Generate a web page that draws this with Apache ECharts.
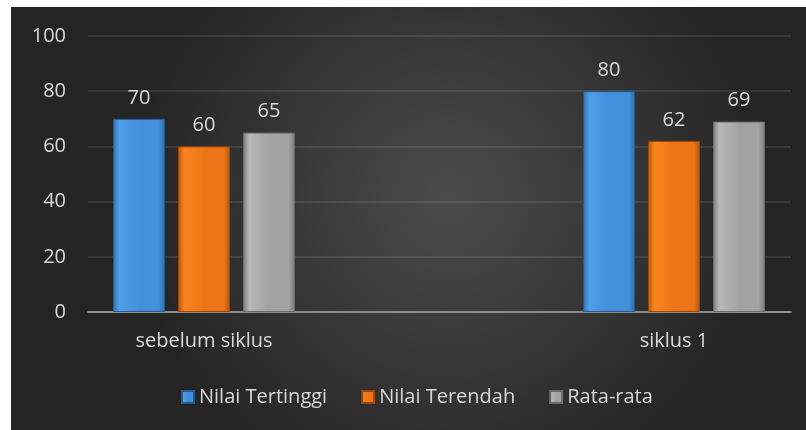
<!DOCTYPE html>
<html>
<head>
<meta charset="utf-8">
<script src="https://cdn.jsdelivr.net/npm/echarts@6/dist/echarts.min.js"></script>
<style>
html, body { margin: 0; padding: 0; background: #fff; }
#container { width: 806px; height: 430px; }
</style>
</head>
<body>
<div id="container"></div>
<script>
var categories = ['sebelum siklus', 'siklus 1'];
var nilaiTertinggi = [70, 80];
var nilaiTerendah = [60, 62];
var rataRata = [65, 69];
var seriesNames = ['Nilai Tertinggi', 'Nilai Terendah', 'Rata-rata'];

var dom = document.getElementById("container");
var myChart = echarts.init(dom);

function barColor(edge, mid, light) {
    return new echarts.graphic.LinearGradient(0, 0, 1, 0, [
        {offset: 0, color: edge},
        {offset: 0.12, color: light},
        {offset: 0.5, color: mid},
        {offset: 0.88, color: mid},
        {offset: 1, color: edge}
    ]);
}

function toPoints(values) {
    return values.map(function (v, i) { return [i, v]; });
}

var labelStyle = {
    show: true,
    position: 'top',
    distance: 11,
    color: '#d9d9d9',
    fontSize: 20,
    fontFamily: 'Open Sans'
};

var colors = [
    barColor('#2f6fae', '#4290dc', '#519fe8'),
    barColor('#b5560c', '#ee7517', '#f8841f'),
    barColor('#7a7a7a', '#a3a3a3', '#b8b8b8')
];

option = {
    animation: false,
    textStyle: {fontFamily: 'Open Sans'},
    graphic: [{
        type: 'rect',
        z: -100,
        shape: {x: 11, y: 7, width: 795, height: 423},
        style: {
            fill: new echarts.graphic.RadialGradient(0.55, 0.45, 0.75, [
                {offset: 0, color: '#4b4b4b'},
                {offset: 1, color: '#242424'}
            ])
        }
    }],
    legend: {
        left: 176,
        top: 382,
        itemWidth: 12,
        itemHeight: 12,
        itemGap: 34,
        icon: 'rect',
        textStyle: {color: '#d9d9d9', fontSize: 20},
        data: seriesNames
    },
    grid: {left: 88, right: 15, top: 36, bottom: 118},
    xAxis: {
        type: 'value',
        min: -0.2468,
        max: 1.249,
        splitLine: {show: false},
        axisTick: {show: false},
        axisLine: {show: true, lineStyle: {color: '#8c8c8c', width: 2}},
        axisLabel: {
            customValues: [0, 1],
            margin: 19,
            color: '#d9d9d9',
            fontSize: 20,
            formatter: function (v) { return categories[Math.round(v)]; }
        }
    },
    yAxis: {
        type: 'value',
        min: 0,
        max: 100,
        interval: 20,
        axisLine: {show: false},
        axisTick: {show: false},
        axisLabel: {color: '#d9d9d9', fontSize: 20, margin: 22},
        splitLine: {lineStyle: {color: 'rgba(255,255,255,0.13)', width: 1.5}}
    },
    series: [
        {
            name: seriesNames[0], type: 'bar', barWidth: 52, barGap: '25%',
            data: toPoints(nilaiTertinggi),
            itemStyle: {color: colors[0], borderColor: '#26598c', borderWidth: 1},
            label: labelStyle
        },
        {
            name: seriesNames[1], type: 'bar', barWidth: 52, barGap: '25%',
            data: toPoints(nilaiTerendah),
            itemStyle: {color: colors[1], borderColor: '#9a4608', borderWidth: 1},
            label: labelStyle
        },
        {
            name: seriesNames[2], type: 'bar', barWidth: 52, barGap: '25%',
            data: toPoints(rataRata),
            itemStyle: {color: colors[2], borderColor: '#6a6a6a', borderWidth: 1},
            label: labelStyle
        }
    ]
};

if (option && typeof option === "object") {
    myChart.setOption(option, true);
}
</script>
</body>
</html>
